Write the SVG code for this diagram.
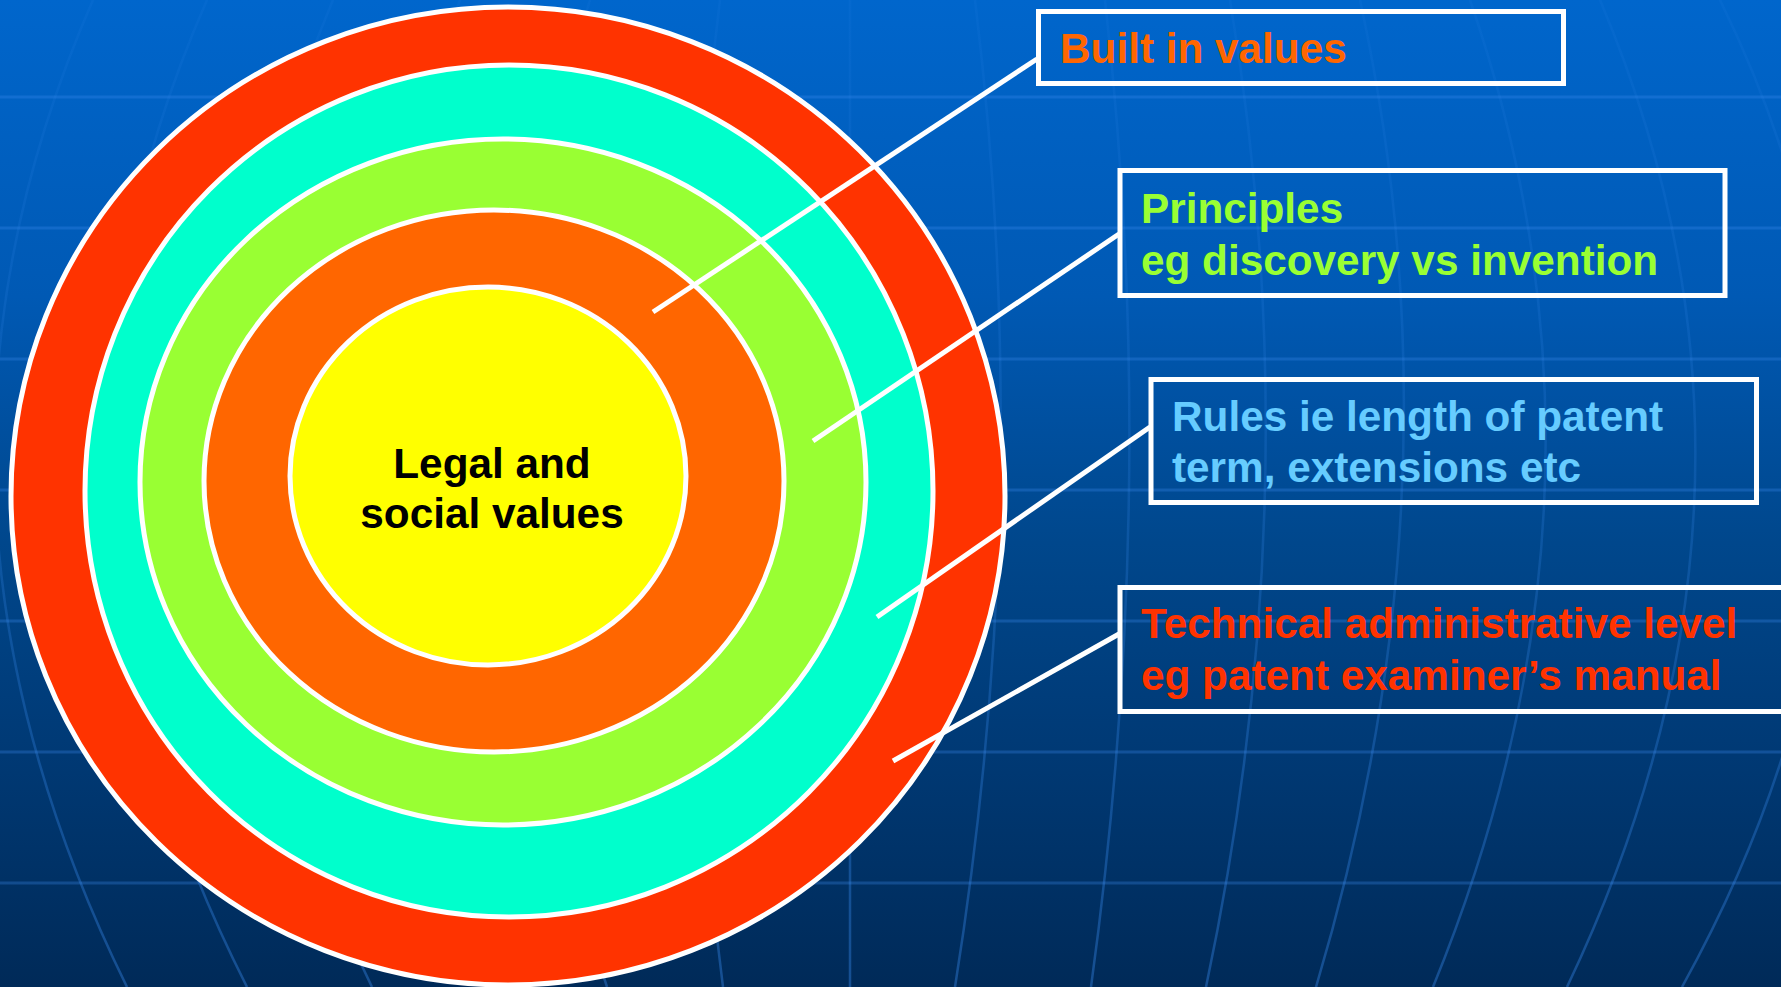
<svg xmlns="http://www.w3.org/2000/svg" width="1781" height="987" viewBox="0 0 1781 987">
<defs>
<linearGradient id="bg" x1="0" y1="0" x2="0" y2="1">
<stop offset="0" stop-color="#0066CC"/>
<stop offset="0.3" stop-color="#0059B4"/>
<stop offset="0.55" stop-color="#00478C"/>
<stop offset="0.75" stop-color="#003A76"/>
<stop offset="1" stop-color="#002A58"/>
</linearGradient>
<linearGradient id="merg" gradientUnits="userSpaceOnUse" x1="0" y1="0" x2="0" y2="987">
<stop offset="0" stop-color="#3a8cf0" stop-opacity="0.08"/>
<stop offset="0.5" stop-color="#3a8cf0" stop-opacity="0.2"/>
<stop offset="1" stop-color="#3a8cf0" stop-opacity="0.38"/>
</linearGradient>
<style>
.grid{stroke:#3a8cf0;stroke-opacity:0.3;stroke-width:3;fill:none}
.mer{stroke:url(#merg);stroke-width:2.5;fill:none}
.ring{stroke:#FFFFFF;stroke-width:5}
.box{fill:none;stroke:#FFFFFF;stroke-width:5}
.conn{stroke:#FFFFFF;stroke-width:5;fill:none}
.t{font-family:"Liberation Sans",Arial,sans-serif;font-weight:bold;font-size:42.3px}
</style>
</defs>
<rect x="0" y="0" width="1781" height="987" fill="url(#bg)"/>
<g id="background-grid">
<path class="grid" d="M0 97H1781M0 228H1781M0 359H1781M0 490H1781M0 621H1781M0 752H1781M0 883H1781"/>
<path class="mer" d="M93 0Q-120 486 127 987"/>
<path class="mer" d="M207 0Q-7 486 247 987"/>
<path class="mer" d="M333 0Q128 486 372 987"/>
<path class="mer" d="M460 0Q285 486 490 987"/>
<path class="mer" d="M590 0Q442 486 607 987"/>
<path class="mer" d="M720 0Q659 486 723 987"/>
<path class="mer" d="M850 0L850 987"/>
<path class="mer" d="M975 0Q1035 486 955 987"/>
<path class="mer" d="M1105 0Q1160 486 1091 987"/>
<path class="mer" d="M1230 0Q1312 486 1206 987"/>
<path class="mer" d="M1360 0Q1466 486 1316 987"/>
<path class="mer" d="M1470 0Q1638 486 1433 987"/>
<path class="mer" d="M1600 0Q1806 486 1567 987"/>
<path class="mer" d="M1720 0Q1959 486 1682 987"/>
</g>
<g id="rings">
<g id="ring-technical"><ellipse class="ring" cx="508" cy="496" rx="497" ry="489" fill="#FF3300"/></g>
<g id="ring-rules"><ellipse class="ring" cx="509" cy="491" rx="424" ry="426" fill="#00FFCC"/></g>
<g id="ring-principles"><ellipse class="ring" cx="503" cy="482" rx="363" ry="343" fill="#99FF33"/></g>
<g id="ring-built-in"><ellipse class="ring" cx="494" cy="481" rx="290" ry="271" fill="#FF6600"/></g>
<g id="core"><ellipse class="ring" cx="488" cy="476" rx="198" ry="189" fill="#FFFF00"/>
<text class="t" x="492" y="478" text-anchor="middle" fill="#000000">Legal and</text>
<text class="t" x="492" y="528" text-anchor="middle" fill="#000000">social values</text>
</g>
</g>
<g id="connectors">
<line class="conn" x1="653" y1="312" x2="1037" y2="59"/>
<line class="conn" x1="813" y1="441" x2="1119" y2="234"/>
<line class="conn" x1="877" y1="617" x2="1150" y2="427"/>
<line class="conn" x1="893" y1="761" x2="1119" y2="634"/>
</g>
<g id="label-built-in">
<rect class="box" x="1038.5" y="11.5" width="525" height="72"/>
<text class="t" x="1060" y="63" fill="#FF6600">Built in values</text>
</g>
<g id="label-principles">
<rect class="box" x="1120" y="170.5" width="605" height="125"/>
<text class="t" x="1141" y="223" fill="#99FF33">Principles</text>
<text class="t" x="1141" y="275" fill="#99FF33">eg discovery vs invention</text>
</g>
<g id="label-rules">
<rect class="box" x="1151" y="379.5" width="605.5" height="123"/>
<text class="t" x="1172" y="431" fill="#66CCFF">Rules ie length of patent</text>
<text class="t" x="1172" y="482" fill="#66CCFF">term, extensions etc</text>
</g>
<g id="label-technical">
<rect class="box" x="1120" y="587.5" width="700" height="124"/>
<text class="t" x="1141" y="638" fill="#FF3300">Technical administrative level</text>
<text class="t" x="1141" y="690" fill="#FF3300">eg patent examiner’s manual</text>
</g>
</svg>
